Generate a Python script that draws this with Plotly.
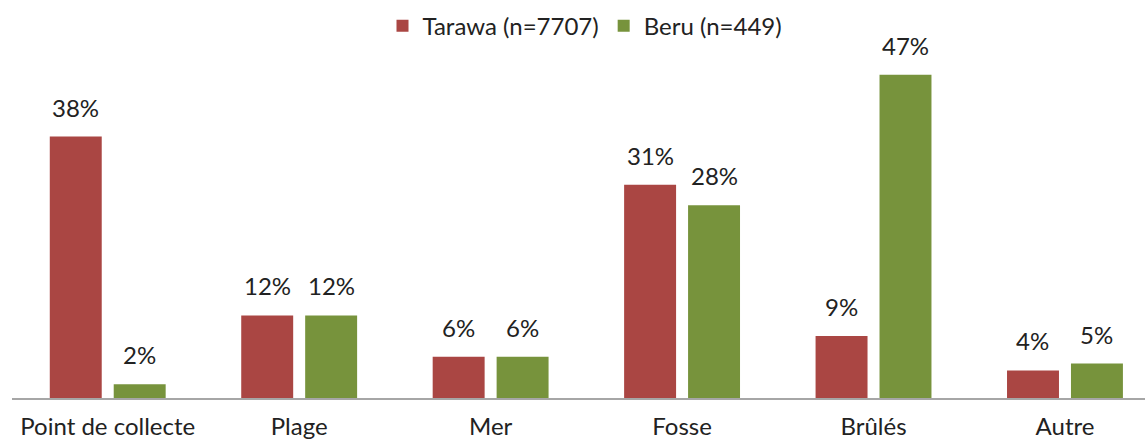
import plotly.graph_objects as go

# Destination des déchets par île (pourcentage des ménages)
categories = ["Point de collecte", "Plage", "Mer", "Fosse", "Brûlés", "Autre"]
tarawa = [38, 12, 6, 31, 9, 4]
beru = [2, 12, 6, 28, 47, 5]
series_names = ["Tarawa (n=7707)", "Beru (n=449)"]

RED = "#AA4643"
GREEN = "#77933C"
FONT = "Lato"
FSIZE = 24

fig = go.Figure()
fig.add_trace(go.Bar(x=categories, y=tarawa, name=series_names[0],
                     marker=dict(color=RED, line=dict(width=0))))
fig.add_trace(go.Bar(x=categories, y=beru, name=series_names[1],
                     marker=dict(color=GREEN, line=dict(width=0))))

# Value labels above each bar
for vals, shift in ((tarawa, -32), (beru, 32)):
    for cat, v in zip(categories, vals):
        fig.add_annotation(x=cat, y=v, text=f"{v}%", showarrow=False,
                           xshift=shift, yshift=13, yanchor="bottom",
                           font=dict(family=FONT, size=FSIZE, color="#222222"))

fig.update_layout(
    width=1145, height=443,
    margin=dict(l=12, r=0, t=54, b=45, autoexpand=False),
    paper_bgcolor="white", plot_bgcolor="white",
    barmode="group", bargap=0.332, bargroupgap=0.1875,
    font=dict(family=FONT, size=FSIZE, color="#222222"),
    showlegend=True,
    legend=dict(orientation="h", xref="container", x=585 / 1145, xanchor="center",
                yref="container", y=0.992, yanchor="top",
                font=dict(family=FONT, size=FSIZE, color="#222222"),
                itemwidth=30, traceorder="normal"),
    xaxis=dict(range=[-0.5, 5.418], showgrid=False, zeroline=False,
               showline=True, linecolor="#A6A6A6", linewidth=1.5,
               ticks="", ticklabelstandoff=6, automargin=False,
               tickfont=dict(family=FONT, size=FSIZE, color="#222222")),
    yaxis=dict(range=[0, 50], visible=False, showgrid=False, zeroline=False,
               automargin=False),
)

fig.write_html("out.html")
